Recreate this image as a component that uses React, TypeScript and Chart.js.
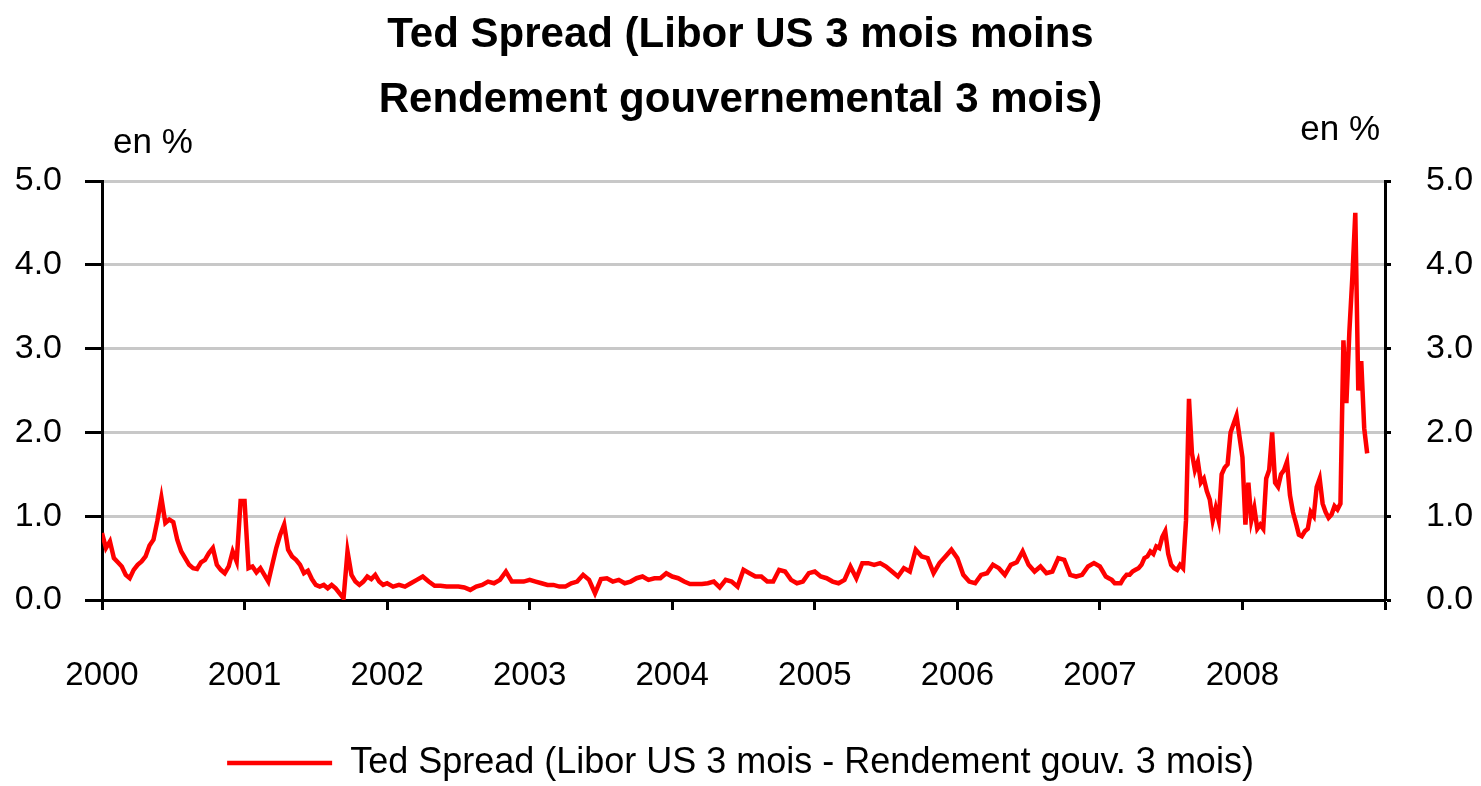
import React, { useEffect, useRef } from "react";
import { Chart, registerables } from "chart.js";

Chart.register(...registerables);

const FONT = "'Liberation Sans Narrow', 'Liberation Sans', Arial, sans-serif";

const titleLines = ["Ted Spread (Libor US 3 mois moins", "Rendement gouvernemental 3 mois)"];
const seriesLabel = "Ted Spread (Libor US 3 mois - Rendement gouv. 3 mois)";
const unitLabel = "en %";

const years = [2000, 2001, 2002, 2003, 2004, 2005, 2006, 2007, 2008];
const pointsPerYear = [36, 36, 24, 24, 24, 24, 24, 48, 48];

const v2000 = [0.80, 0.62, 0.70, 0.50, 0.45, 0.40, 0.30, 0.26, 0.36, 0.42,
  0.46, 0.52, 0.65, 0.72, 0.95, 1.22, 0.92, 0.96, 0.93, 0.72,
  0.58, 0.50, 0.42, 0.38, 0.37, 0.45, 0.48, 0.56, 0.62, 0.42,
  0.36, 0.32, 0.40, 0.58, 0.46, 1.18];
const v2001 = [1.18, 0.38, 0.40, 0.33, 0.38, 0.30, 0.22, 0.42, 0.62, 0.78,
  0.90, 0.60, 0.52, 0.48, 0.42, 0.32, 0.35, 0.25, 0.18, 0.16,
  0.18, 0.14, 0.18, 0.14, 0.08, 0.02, 0.58, 0.30, 0.22, 0.18,
  0.22, 0.28, 0.25, 0.30, 0.22, 0.18];
const v2002 = [0.20, 0.16, 0.18, 0.16, 0.20, 0.24, 0.28, 0.22, 0.17, 0.17,
  0.16, 0.16, 0.16, 0.15, 0.12, 0.16, 0.18, 0.22, 0.20, 0.24,
  0.34, 0.22, 0.22, 0.22];
const v2003 = [0.24, 0.22, 0.20, 0.18, 0.18, 0.16, 0.16, 0.20, 0.22, 0.30,
  0.24, 0.08, 0.25, 0.26, 0.22, 0.24, 0.20, 0.22, 0.26, 0.28,
  0.24, 0.26, 0.26, 0.32];
const v2004 = [0.28, 0.26, 0.22, 0.19, 0.19, 0.19, 0.20, 0.22, 0.15, 0.24,
  0.22, 0.16, 0.36, 0.32, 0.28, 0.28, 0.22, 0.22, 0.36, 0.34,
  0.24, 0.20, 0.22, 0.32];
const v2005 = [0.34, 0.28, 0.26, 0.22, 0.20, 0.24, 0.40, 0.26, 0.44, 0.44,
  0.42, 0.44, 0.40, 0.34, 0.28, 0.38, 0.34, 0.60, 0.52, 0.50,
  0.32, 0.44, 0.52, 0.60];
const v2006 = [0.50, 0.30, 0.22, 0.20, 0.30, 0.32, 0.42, 0.38, 0.30, 0.42,
  0.45, 0.58, 0.42, 0.34, 0.40, 0.32, 0.34, 0.50, 0.48, 0.30,
  0.28, 0.30, 0.40, 0.44];
const v2007 = [0.40, 0.34, 0.28, 0.26, 0.24, 0.20, 0.20, 0.20, 0.26, 0.30,
  0.30, 0.34, 0.36, 0.38, 0.42, 0.50, 0.52, 0.58, 0.55, 0.64,
  0.62, 0.75, 0.82, 0.55, 0.42, 0.38, 0.36, 0.42, 0.38, 0.95,
  2.40, 1.75, 1.55, 1.65, 1.40, 1.45, 1.30, 1.20, 0.95, 1.10,
  0.95, 1.50, 1.58, 1.62, 2.00, 2.10, 2.20, 1.95];
const v2008 = [1.70, 0.90, 1.40, 0.95, 1.10, 0.85, 0.90, 0.85, 1.45, 1.55,
  2.00, 1.40, 1.35, 1.50, 1.55, 1.65, 1.25, 1.05, 0.92, 0.78,
  0.76, 0.82, 0.85, 1.05, 1.00, 1.35, 1.45, 1.15, 1.05, 0.98,
  1.02, 1.12, 1.08, 1.15, 3.10, 2.35, 3.20, 3.85, 4.62, 2.50,
  2.85, 2.05, 1.75];

const valuesByYear = [v2000, v2001, v2002, v2003, v2004, v2005, v2006, v2007, v2008];

const unitPlugin = {
  id: "unitLabels",
  afterDraw(chart: any) {
    const { ctx, chartArea } = chart;
    ctx.save();
    ctx.fillStyle = "#000";
    ctx.font = `35px ${FONT}`;
    ctx.textBaseline = "middle";
    ctx.textAlign = "left";
    ctx.fillText(unitLabel, chartArea.left + 11, 143);
    ctx.textAlign = "right";
    ctx.fillText(unitLabel, chartArea.right - 5, 130);
    ctx.restore();
  },
};

export default function App() {
  const ref = useRef<HTMLCanvasElement | null>(null);

  useEffect(() => {
    if (!ref.current) return;
    const points: { x: number; y: number }[] = [];
    valuesByYear.forEach((vals, i) => {
      vals.forEach((v, k) => points.push({ x: years[i] + k / pointsPerYear[i], y: v }));
    });

    const chart = new Chart(ref.current, {
      type: "line",
      data: {
        datasets: [
          {
            label: seriesLabel,
            data: points,
            borderColor: "#ff0000",
            backgroundColor: "#ff0000",
            borderWidth: 4.5,
            pointRadius: 0,
            tension: 0,
            yAxisID: "y",
          },
        ],
      },
      options: {
        animation: false,
        responsive: false,
        devicePixelRatio: 1,
        layout: { padding: { top: 0, left: 0, right: 0, bottom: 0 } },
        plugins: {
          tooltip: { enabled: false },
          title: {
            display: true,
            text: titleLines,
            color: "#000",
            font: { family: FONT, size: 42, weight: "bold", lineHeight: 1.548 },
            padding: { top: 3, bottom: 48 },
          },
          legend: {
            position: "bottom",
            labels: {
              usePointStyle: true,
              pointStyle: "line",
              pointStyleWidth: 105,
              color: "#000",
              font: { family: FONT, size: 36 },
              padding: 0,
            },
          },
        },
        scales: {
          x: {
            type: "linear",
            min: 2000,
            max: 2009,
            afterFit: (s: any) => {
              s.height = 145;
            },
            ticks: {
              stepSize: 1,
              autoSkip: false,
              maxRotation: 0,
              color: "#000",
              padding: 46,
              font: { family: FONT, size: 33 },
              callback: (v: any) => (Number(v) < 2009 ? String(v) : ""),
            },
            grid: {
              drawOnChartArea: false,
              drawTicks: true,
              tickLength: 10,
              tickColor: "#000",
              tickWidth: 3,
            },
            border: { color: "#000", width: 3 },
          },
          y: {
            type: "linear",
            position: "left",
            min: 0,
            max: 5,
            afterFit: (s: any) => {
              s.width = 102;
            },
            ticks: {
              stepSize: 1,
              color: "#000",
              padding: 23,
              font: { family: FONT, size: 34 },
              callback: (v: any) => Number(v).toFixed(1),
            },
            grid: {
              color: (c: any) => (c.tick && c.tick.value === 0 ? "rgba(0,0,0,0)" : "#c8c8c8"),
              lineWidth: 3,
              tickColor: "#000",
              tickWidth: 3,
              tickLength: 17,
            },
            border: { color: "#000", width: 3 },
          },
          y2: {
            type: "linear",
            position: "right",
            min: 0,
            max: 5,
            afterFit: (s: any) => {
              s.width = 96;
            },
            ticks: {
              stepSize: 1,
              color: "#000",
              padding: 35,
              font: { family: FONT, size: 34 },
              callback: (v: any) => Number(v).toFixed(1),
            },
            grid: {
              drawOnChartArea: false,
              tickColor: "#000",
              tickWidth: 3,
              tickLength: 6,
            },
            border: { color: "#000", width: 3 },
          },
        },
      },
      plugins: [unitPlugin],
    } as any);

    return () => chart.destroy();
  }, []);

  return (
    <div style={{ position: "fixed", left: 0, top: 0, width: 1481, height: 786, overflow: "hidden", background: "#fff" }}>
      <canvas ref={ref} width={1481} height={791} style={{ display: "block" }} />
    </div>
  );
}
